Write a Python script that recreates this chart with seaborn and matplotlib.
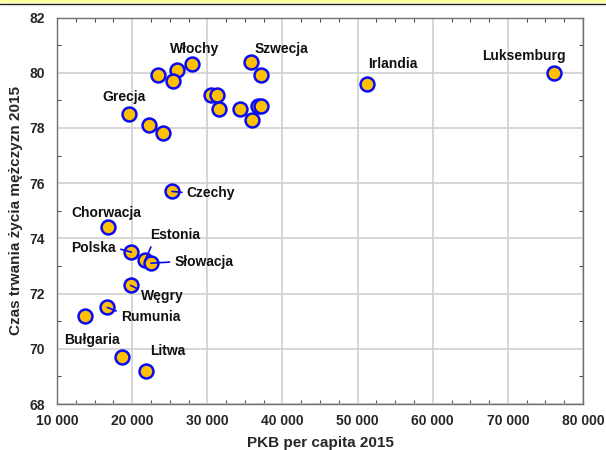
import matplotlib
matplotlib.use('Agg')
import matplotlib.pyplot as plt
import matplotlib.ticker as mticker
import seaborn as sns
import pandas as pd

# Data
countries = ['Włochy', '', '', '', 'Szwecja', '', '', '', '', '', '', '', '',
             'Grecja', '', '', 'Czechy', 'Irlandia', 'Luksemburg',
             'Chorwacja', 'Polska', 'Estonia', 'Słowacja', 'Węgry', 'Rumunia',
             '', 'Bułgaria', 'Litwa']
gdp = [27900, 23500, 26000, 25500, 35800, 37100, 30500, 31300, 31600, 34300,
       36700, 37200, 35900, 19600, 22300, 24100, 25300, 51200, 76200,
       16800, 19900, 21700, 22500, 19800, 16700, 13700, 18700, 21800]
life = [80.3, 79.9, 80.1, 79.7, 80.4, 79.9, 79.2, 79.2, 78.7, 78.7,
        78.8, 78.8, 78.3, 78.5, 78.1, 77.8, 75.7, 79.6, 80.0,
        74.4, 73.5, 73.2, 73.1, 72.3, 71.5, 71.2, 69.7, 69.2]

df = pd.DataFrame({'country': countries, 'gdp': gdp, 'life': life})

# label offsets in points (dx, dy) and leader line anchor on the text (None = no line)
label_pos = {
    'Włochy': (2, 11, None), 'Szwecja': (22, 9, None), 'Grecja': (-4, 12, None),
    'Czechy': (28, -1, (0, 0.5)), 'Irlandia': (19, 14, None), 'Luksemburg': (-22, 12, None),
    'Chorwacja': (-1, 10, None), 'Polska': (-27, 3, (1, 0.5)), 'Estonia': (22, 18, (0.05, 0)),
    'Słowacja': (38, 1, (0, 0.5)), 'Węgry': (23, -8, (0, 0.9)), 'Rumunia': (31, -7, (0, 0.8)),
    'Bułgaria': (-22, 12, None), 'Litwa': (16, 14, None),
}

sns.set_theme(style='whitegrid')
plt.rcParams['font.family'] = ['Liberation Sans', 'DejaVu Sans']
plt.rcParams['font.weight'] = 'bold'

fig = plt.figure(figsize=(6.06, 4.5), dpi=100)
ax = fig.add_axes([57 / 606, 1 - 404 / 450, 526 / 606, 386.5 / 450])

sns.scatterplot(data=df, x='gdp', y='life', ax=ax, s=100, color='#FFC000',
                edgecolor='#0A0AF5', linewidth=1.8, zorder=3, clip_on=False)

for _, r in df.iterrows():
    if r['country'] == '':
        continue
    dx, dy, rel = label_pos[r['country']]
    arrow = None
    if rel is not None:
        arrow = dict(arrowstyle='-', color='#0A0AF5', lw=1.2, shrinkA=1, shrinkB=0, relpos=rel)
    ax.annotate(r['country'], xy=(r['gdp'], r['life']), xytext=(dx, dy),
                textcoords='offset points', ha='center', va='center',
                fontsize=10, fontweight='bold', color='#111111', zorder=5,
                arrowprops=arrow)

ax.set_xlim(10000, 80000)
ax.set_ylim(68, 82)
ax.xaxis.set_major_locator(mticker.MultipleLocator(10000))
ax.xaxis.set_minor_locator(mticker.MultipleLocator(2500))
ax.yaxis.set_major_locator(mticker.MultipleLocator(2))
ax.yaxis.set_minor_locator(mticker.MultipleLocator(1))
ax.xaxis.set_major_formatter(mticker.FuncFormatter(lambda v, p: f'{int(v):,}'.replace(',', ' ')))

ax.grid(True, which='major', color='#d0d0d0', linewidth=1.2)
ax.grid(False, which='minor')
for s in ax.spines.values():
    s.set_color('#707070')
    s.set_linewidth(1.0)
ax.tick_params(which='both', direction='in', top=True, right=True, left=True, bottom=True,
               color='#505050', labelsize=10)
ax.tick_params(which='major', length=0)
ax.tick_params(which='minor', length=3, width=0.8)
ax.tick_params(axis='y', which='major', pad=9)
ax.tick_params(axis='x', which='major', pad=7)
for lab in ax.get_xticklabels() + ax.get_yticklabels():
    lab.set_fontweight('bold')

ax.set_xlabel('PKB per capita 2015', fontsize=11, fontweight='bold', labelpad=6)
ax.set_ylabel('Czas trwania życia mężczyzn 2015', fontsize=11, fontweight='bold', labelpad=4)

# thin yellow strip at the very top of the image
fig.patches.append(plt.Rectangle((0, 1 - 3 / 450), 1, 3 / 450, transform=fig.transFigure,
                                 facecolor='#FFFFA0', edgecolor='none'))
fig.lines.append(plt.Line2D([0, 1], [1 - 3.5 / 450, 1 - 3.5 / 450], transform=fig.transFigure,
                            color='#202020', linewidth=1))

fig.savefig('out.png', dpi=100)
